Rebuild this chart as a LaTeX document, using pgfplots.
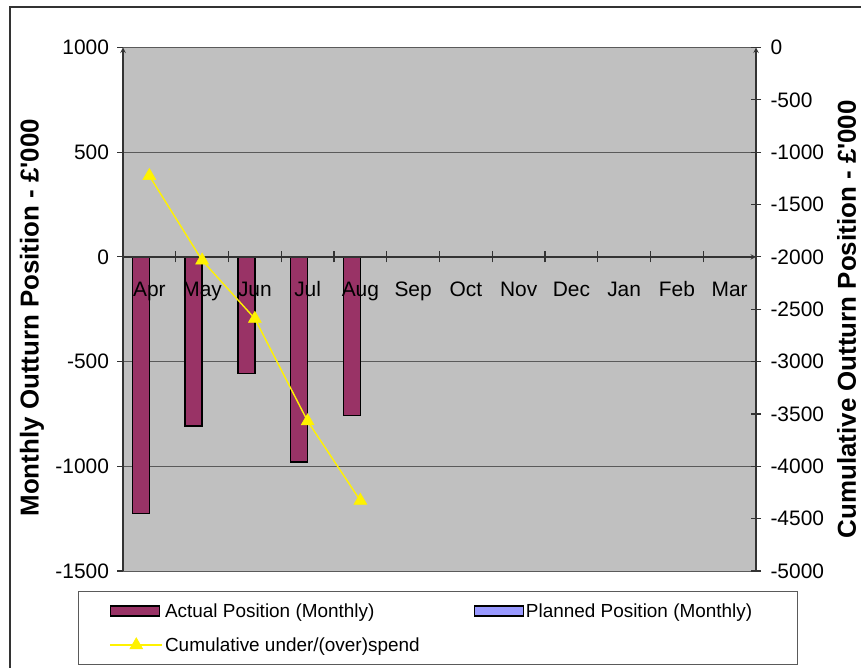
\documentclass[border=0pt]{standalone}
\usepackage{fontspec}
\setmainfont{Liberation Sans}
\usepackage{pgfplots}
\pgfplotsset{compat=1.18}

\definecolor{plotbg}{HTML}{C0C0C0}
\definecolor{actual}{HTML}{993366}
\definecolor{planned}{HTML}{9999FF}
\definecolor{gridc}{HTML}{5A5A5A}
\definecolor{axisc}{HTML}{333333}

\pgfplotsset{
  chartaxis/.style={
    scale only axis, width=633bp, height=523.5bp,
    at={(0,0)}, anchor=south west,
    xmin=0.5, xmax=12.5,
    /pgf/number format/assume math mode=true,
    /pgf/number format/1000 sep={},
    tick label style={font=\fontsize{21}{24}\selectfont, text=black},
    axis line style={axisc, line width=1.4bp, -},
    every inner x axis line/.append style={-},
    every outer x axis line/.append style={-},
    every outer y axis line/.append style={-},
    tick style={axisc, line width=1.2bp},
    hide obscured x ticks=false, hide obscured y ticks=false,
  },
  barleg/.style={draw=black, line width=1.3bp,
    legend image code/.code={\draw[##1] (0bp,-5bp) rectangle (49bp,5bp);}},
  lineleg/.style={
    legend image code/.code={\draw[mark repeat=2, mark phase=2, ##1]
      plot coordinates {(0bp,0bp) (26bp,0bp) (52bp,0bp)};}},
}

\begin{document}
\begin{tikzpicture}
\useasboundingbox (-123bp,-97bp) rectangle (738bp,571bp);

% monthly bars, left axis
\begin{axis}[chartaxis,
  axis x line=none, axis y line=left,
  ymin=-1500, ymax=1000, ytick distance=500,
  ytick align=outside, major tick length=5.5bp,
  xtick=\empty,
  yticklabel style={xshift=-5bp},
  ymajorgrids, grid style={gridc, line width=1bp},
  axis background/.style={fill=plotbg},
  every axis y label/.style={at={(axis description cs:-0.1438,0.484)},
    rotate=90, anchor=center, font=\fontsize{26}{30}\selectfont\bfseries},
  ylabel={Monthly Outturn Position - £\textquotesingle000},
  legend columns=2,
  legend cell align=left,
  legend style={at={(axis description cs:-0.0711,-0.038)}, anchor=north west,
    draw=gridc, line width=1bp, fill=white,
    font=\fontsize{19}{22}\selectfont,
    inner xsep=31bp, inner ysep=10bp, row sep=15bp,
    /tikz/every even column/.append style={column sep=52bp}},
]
\addplot[ybar, bar width=0.322, bar shift=-0.161, fill=actual, draw=black,
  line width=1.3bp, forget plot]
  coordinates {(1,-1226) (2,-807) (3,-557) (4,-979) (5,-759)};
\addlegendimage{barleg, fill=actual}
\addlegendentry{Actual Position (Monthly)}
\addlegendimage{barleg, fill=planned}
\addlegendentry{Planned Position (Monthly)\hspace*{12bp}}
\addlegendimage{lineleg, yellow, line width=1.6bp, mark=triangle*,
  mark size=7.5bp, mark options={fill=yellow, draw=yellow, line width=0.5bp}}
\addlegendentry{Cumulative under/(over)spend}
\end{axis}

% month axis at zero
\begin{axis}[chartaxis,
  axis x line=middle, axis y line=none,
  ymin=-1500, ymax=1000, ytick=\empty,
  xtick={0.5,1.5,...,12.5}, x tick label as interval,
  xticklabels={Apr,May,Jun,Jul,Aug,Sep,Oct,Nov,Dec,Jan,Feb,Mar},
  xtick align=center, major tick length=11bp,
  x tick label style={anchor=base, yshift=-34bp},
]
\end{axis}

% cumulative line, right axis
\begin{axis}[chartaxis,
  axis x line=none, axis y line=right,
  ymin=-5000, ymax=0, ytick distance=500,
  xtick=\empty,
  ytick align=center, major tick length=10bp,
  yticklabel style={xshift=6bp},
  every axis y label/.style={at={(axis description cs:1.143,0.481)},
    rotate=90, anchor=center, font=\fontsize{26}{30}\selectfont\bfseries},
  ylabel={Cumulative Outturn Position - £\textquotesingle000},
]
\addplot[yellow, line width=1.4bp, mark=triangle*, mark size=7.5bp,
  mark options={fill=yellow, draw=yellow, line width=0.5bp}]
  coordinates {(1,-1226) (2,-2033) (3,-2590) (4,-3569) (5,-4328)};
\end{axis}

\draw[axisc, line width=1.8bp] (-113bp,-120bp) -- (-113bp,564bp) -- (760bp,564bp);
\end{tikzpicture}
\end{document}
